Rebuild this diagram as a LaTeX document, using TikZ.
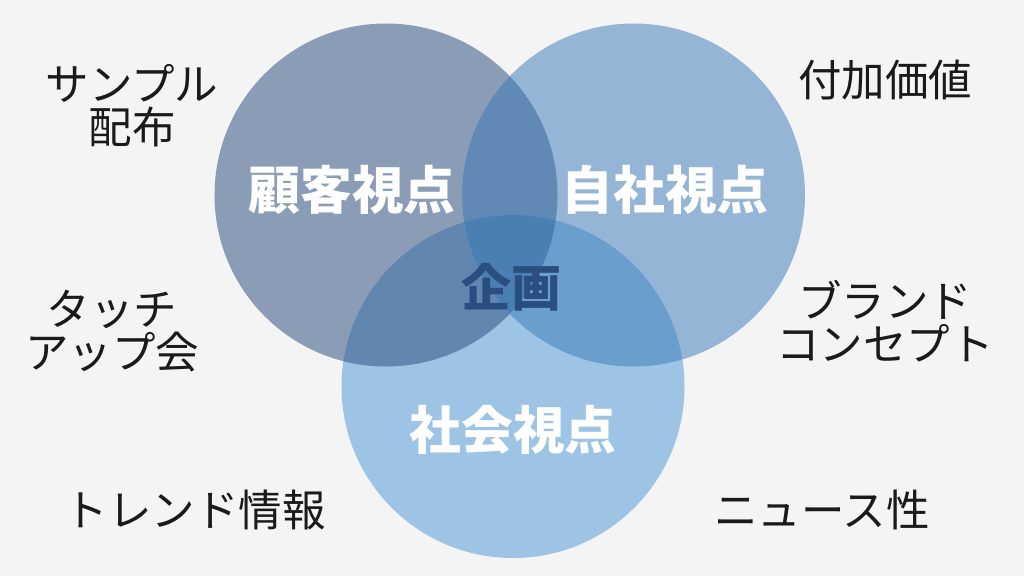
\documentclass[tikz,border=0pt]{standalone}
\usepackage{fontspec}
\newfontfamily\jp{Noto Sans CJK JP}
\definecolor{bg}{HTML}{F4F4F4}
\definecolor{cL}{HTML}{8B9DB6}
\definecolor{cR}{HTML}{95B5D6}
\definecolor{cB}{HTML}{9DC3E5}
\definecolor{cLR}{HTML}{608AB5}
\definecolor{cLB}{HTML}{6286AD}
\definecolor{cRB}{HTML}{6A9FCD}
\definecolor{cLRB}{HTML}{4A7FB3}
\definecolor{kikaku}{HTML}{2A4E80}
\definecolor{txt}{HTML}{1A1A1A}
\tikzset{
  side/.style={font=\jp\fontsize{43.5}{43}\selectfont, text=txt, align=center, inner sep=0pt},
  circlabel/.style={font=\jp\bfseries\fontsize{51.8}{52}\selectfont, text=white, inner sep=0pt},
  centerlabel/.style={font=\jp\bfseries\fontsize{50}{52}\selectfont, text=kikaku, inner sep=0pt}
}
\begin{document}
\begin{tikzpicture}[x=1pt,y=-1pt]
\fill[bg] (0,0) rectangle (1024,576);
\useasboundingbox (0,0) rectangle (1024,576);
\coordinate (cl) at (386,195);
\coordinate (cr) at (633.5,195);
\coordinate (cb) at (513,386.5);
\def\rad{171.5}
\fill[cL] (cl) circle (\rad);
\fill[cR] (cr) circle (\rad);
\fill[cB] (cb) circle (\rad);
\begin{scope}
  \clip (cl) circle (\rad);
  \fill[cLR] (cr) circle (\rad);
\end{scope}
\begin{scope}
  \clip (cl) circle (\rad);
  \fill[cLB] (cb) circle (\rad);
\end{scope}
\begin{scope}
  \clip (cr) circle (\rad);
  \fill[cRB] (cb) circle (\rad);
\end{scope}
\begin{scope}
  \clip (cl) circle (\rad);
  \clip (cr) circle (\rad);
  \fill[cLRB] (cb) circle (\rad);
\end{scope}
\node[circlabel] (kokyaku) at (352,190) {顧客視点};
\node[circlabel] (jisha) at (665,190) {自社視点};
\node[circlabel] (shakai) at (513,430) {社会視点};
\node[centerlabel] (kikakun) at (511,287) {企画};
\node[side] (sample) at (132,106) {サンプル\\配布};
\node[side] (fuka) at (885,80) {付加価値};
\node[side] (touch) at (112,331) {タッチ\\アップ会};
\node[side] (brand) at (885,321) {ブランド\\コンセプト};
\node[side] (trend) at (195,510) {トレンド情報};
\node[side] (news) at (822,510) {ニュース性};
\end{tikzpicture}
\end{document}
